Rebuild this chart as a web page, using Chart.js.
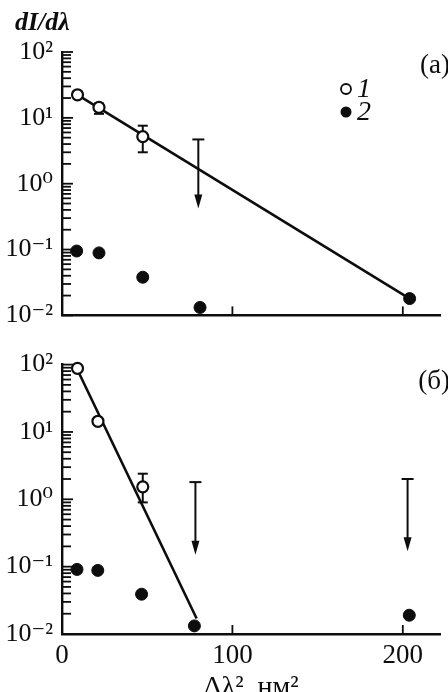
<!DOCTYPE html>
<html>
<head>
<meta charset="utf-8">
<script src="https://cdn.jsdelivr.net/npm/chart.js@4.4.1/dist/chart.umd.min.js"></script>
<style>
html, body { margin: 0; padding: 0; background: #fff; overflow: hidden; }
#wrap { position: relative; width: 448px; height: 692px; }
canvas { position: absolute; left: 0; }
#panelA { top: 0; }
#panelB { top: 340px; }
</style>
</head>
<body>
<div id="wrap">
    <canvas id="panelA" width="448" height="340"></canvas>
    <canvas id="panelB" width="448" height="380"></canvas>
</div>
<script>
// x: Δλ² (нм²), y: dI/dλ (log)
const xTicks = [0, 100, 200];
const yDecades = [0.01, 0.1, 1, 10, 100];
const yTickLabels = ['10⁻²', '10⁻¹', '10⁰', '10¹', '10²'];
const legendLabels = ['1', '2'];

// panel (а)
const openXA = [9.1, 21.7, 47.4];
const openYA = [22.4, 14.4, 5.2];
const fillXA = [8.6, 21.7, 47.4, 81, 204];
const fillYA = [0.095, 0.089, 0.038, 0.0132, 0.018];
const fitXA = [9.1, 204];
const fitYA = [22.4, 0.018];
const errXA = [21.7, 47.4];
const errLoA = [11.5, 3.0];
const errHiA = [16.5, 7.6];
const arrowXA = [80];
const arrowFromA = [4.7];
const arrowToA = [0.42];

// panel (б)
const openXB = [9.1, 21.1, 47.4];
const openYB = [88, 14.4, 1.53];
const fillXB = [8.8, 21, 46.7, 77.7, 203.8];
const fillYB = [0.091, 0.088, 0.039, 0.0132, 0.019];
const fitXB = [7.3, 79];
const fitYB = [104, 0.017];
const errXB = [21.1, 47.4];
const errLoB = [13.2, 0.9];
const errHiB = [16, 2.4];
const arrowXB = [78.3, 202.8];
const arrowFromB = [1.8, 2.0];
const arrowToB = [0.15, 0.17];

const ink = '#0d0d0d';
const serif = "'Liberation Serif', 'DejaVu Serif', serif";

function pts(xs, ys) {
    return xs.map((x, i) => ({x: x, y: ys[i]}));
}

function yMinorTicks() {
    const out = [];
    for (let d = 0; d < yDecades.length; d++) {
        for (let m = 1; m <= 9; m++) {
            const v = yDecades[d] * m;
            if (v <= yDecades[yDecades.length - 1] * 1.0001) out.push({value: v});
        }
    }
    return out;
}

function decadeIndex(v) {
    return yDecades.findIndex(d => Math.abs(Math.log10(v) - Math.log10(d)) < 1e-6);
}

function makeDecor(p) {
    function seg(ctx, x1, y1, x2, y2) {
        ctx.beginPath();
        ctx.moveTo(x1, y1);
        ctx.lineTo(x2, y2);
        ctx.stroke();
    }
    return {
        id: 'decor',
        beforeDatasetsDraw(chart) {
            const {ctx, scales: {x, y}} = chart;
            ctx.save();
            ctx.strokeStyle = ink;
            ctx.fillStyle = ink;
            ctx.lineWidth = 2;
            // error bars
            p.errX.forEach((v, i) => {
                const px = x.getPixelForValue(v);
                const lo = y.getPixelForValue(p.errLo[i]);
                const hi = y.getPixelForValue(p.errHi[i]);
                seg(ctx, px, lo, px, hi);
                seg(ctx, px - 5, lo, px + 5, lo);
                seg(ctx, px - 5, hi, px + 5, hi);
            });
            // upper-limit arrows
            p.arrowX.forEach((v, i) => {
                const px = x.getPixelForValue(v);
                const top = y.getPixelForValue(p.arrowFrom[i]);
                const tip = y.getPixelForValue(p.arrowTo[i]);
                seg(ctx, px, top, px, tip - 10);
                seg(ctx, px - 6, top, px + 6, top);
                ctx.beginPath();
                ctx.moveTo(px - 4, tip - 14);
                ctx.lineTo(px + 4, tip - 14);
                ctx.lineTo(px, tip);
                ctx.closePath();
                ctx.fill();
            });
            ctx.restore();
        },
        afterDraw(chart) {
            const {ctx, chartArea, scales: {x, y}} = chart;
            ctx.save();
            ctx.strokeStyle = ink;
            ctx.fillStyle = ink;
            ctx.lineWidth = 1.8;
            // inward tick marks
            y.ticks.forEach(t => {
                const py = y.getPixelForValue(t.value);
                const len = decadeIndex(t.value) >= 0 ? 11 : 9;
                seg(ctx, chartArea.left, py, chartArea.left + len, py);
            });
            x.ticks.forEach(t => {
                if (t.value <= 0) return;
                const px = x.getPixelForValue(t.value);
                seg(ctx, px, chartArea.bottom, px, chartArea.bottom - 9);
            });

            // panel letter
            ctx.font = '27px ' + serif;
            ctx.textAlign = 'right';
            ctx.textBaseline = 'middle';
            ctx.fillText(p.letter, 450, chartArea.top + p.letterDy);

            if (p.legend) {
                const lx = 346, ly = [89, 112];
                ctx.lineWidth = 1.8;
                ctx.beginPath();
                ctx.arc(lx, ly[0], 5, 0, Math.PI * 2);
                ctx.stroke();
                ctx.beginPath();
                ctx.arc(lx, ly[1], 5.5, 0, Math.PI * 2);
                ctx.fill();
                ctx.font = 'italic 28px ' + serif;
                ctx.textAlign = 'left';
                ctx.fillText(legendLabels[0], lx + 11, ly[0] + 1);
                ctx.fillText(legendLabels[1], lx + 11, ly[1] + 1);
            }
            if (p.yTitle) {
                ctx.font = 'italic bold 26px ' + serif;
                ctx.textAlign = 'left';
                ctx.textBaseline = 'alphabetic';
                ctx.fillText(p.yTitle, 15, 30);
            }
            ctx.restore();
        }
    };
}

function makePanel(canvasId, p) {
    const canvas = document.getElementById(canvasId);
    return new Chart(canvas.getContext('2d'), {
        type: 'scatter',
        data: {
            datasets: [
                {
                    data: pts(p.fitX, p.fitY),
                    showLine: true,
                    borderColor: ink,
                    borderWidth: 2.6,
                    pointRadius: 0,
                    clip: false,
                    order: 3
                },
                {
                    data: pts(p.openX, p.openY),
                    pointRadius: 5.5,
                    pointBackgroundColor: '#fff',
                    pointBorderColor: ink,
                    pointBorderWidth: 2.2,
                    clip: false,
                    order: 2
                },
                {
                    data: pts(p.fillX, p.fillY),
                    pointRadius: 6,
                    pointBackgroundColor: ink,
                    pointBorderColor: ink,
                    pointBorderWidth: 1,
                    clip: false,
                    order: 1
                }
            ]
        },
        options: {
            responsive: false,
            animation: false,
            events: [],
            layout: {padding: {top: p.padTop, bottom: p.padBottom, left: 0, right: 0}},
            plugins: {legend: {display: false}, tooltip: {enabled: false}},
            scales: {
                x: {
                    type: 'linear',
                    min: 0,
                    max: 222,
                    afterBuildTicks: axis => { axis.ticks = xTicks.map(v => ({value: v})); },
                    afterFit: axis => { axis.height = p.xHeight; },
                    grid: {display: false, drawTicks: false, tickLength: 0},
                    border: {display: true, color: ink, width: 2.4},
                    ticks: {
                        display: p.xLabels,
                        includeBounds: false,
                        autoSkip: false,
                        maxRotation: 0,
                        padding: 6,
                        color: ink,
                        font: {family: serif, size: 27}
                    },
                    title: {
                        display: !!p.xTitle,
                        text: p.xTitle || '',
                        color: ink,
                        font: {family: serif, size: 28},
                        padding: {top: 0, bottom: p.xTitlePad || 0}
                    }
                },
                y: {
                    type: 'logarithmic',
                    min: 0.01,
                    max: 100,
                    afterBuildTicks: axis => { axis.ticks = yMinorTicks(); },
                    afterFit: axis => { axis.width = 62; },
                    grid: {display: false, drawTicks: false, tickLength: 0},
                    border: {display: true, color: ink, width: 2.4},
                    ticks: {
                        autoSkip: false,
                        padding: 9,
                        color: ink,
                        font: {family: serif, size: 26},
                        callback: v => {
                            const i = decadeIndex(v);
                            return i >= 0 ? yTickLabels[i] : '';
                        }
                    }
                }
            }
        },
        plugins: [makeDecor(p)]
    });
}

document.addEventListener('DOMContentLoaded', () => {
    makePanel('panelA', {
        openX: openXA, openY: openYA, fillX: fillXA, fillY: fillYA,
        fitX: fitXA, fitY: fitYA,
        errX: errXA, errLo: errLoA, errHi: errHiA,
        arrowX: arrowXA, arrowFrom: arrowFromA, arrowTo: arrowToA,
        padTop: 52, padBottom: 17, xHeight: 0, xLabels: false,
        letter: '(а)', letterDy: 14, legend: true, yTitle: 'dI/dλ'
    });
    makePanel('panelB', {
        openX: openXB, openY: openYB, fillX: fillXB, fillY: fillYB,
        fitX: fitXB, fitY: fitYB,
        errX: errXB, errLo: errLoB, errHi: errHiB,
        arrowX: arrowXB, arrowFrom: arrowFromB, arrowTo: arrowToB,
        padTop: 23, padBottom: 0, xHeight: 86, xLabels: true,
        xTitle: 'Δλ², нм²', xTitlePad: 16,
        letter: '(б)', letterDy: 17, legend: false
    });
});
</script>
</body>
</html>
